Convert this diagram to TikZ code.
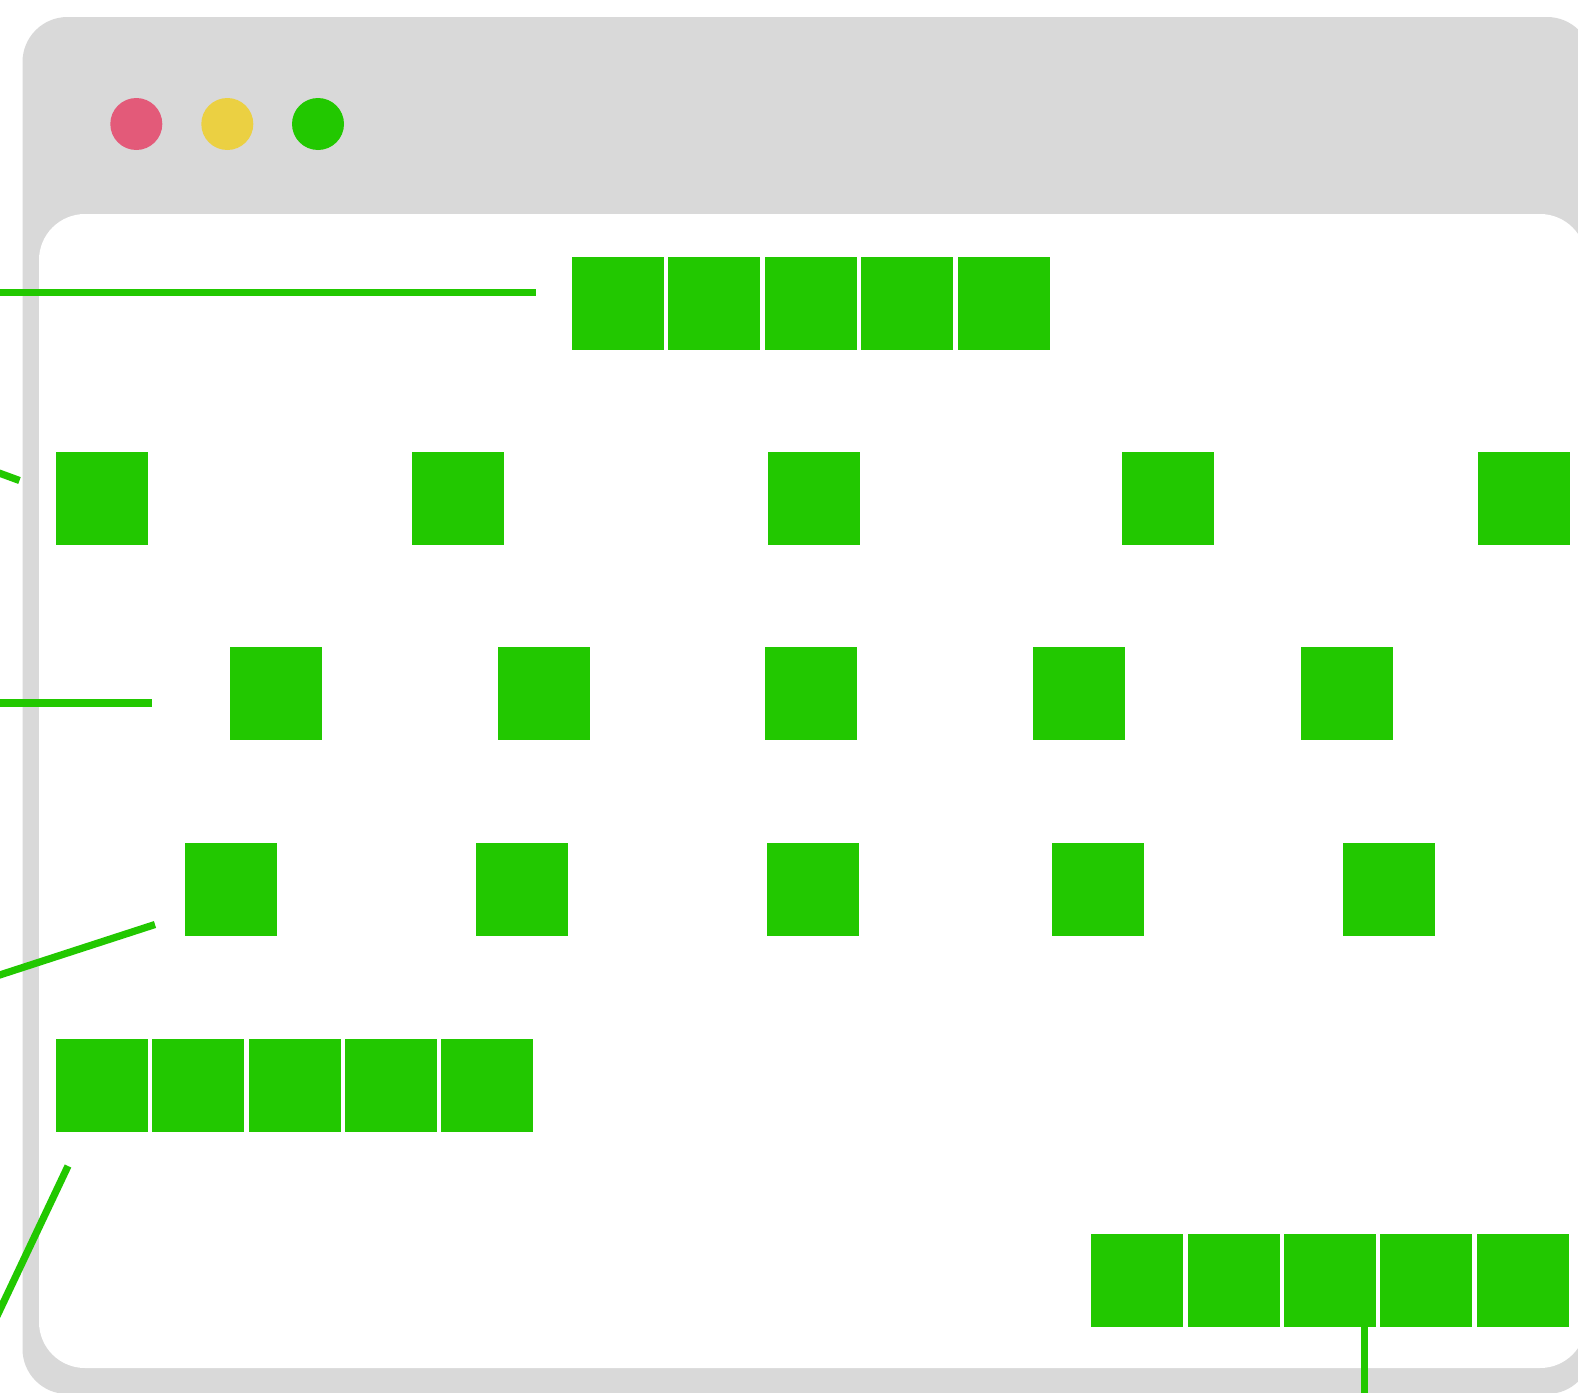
\documentclass[tikz,border=0pt]{standalone}
\definecolor{wingray}{HTML}{D9D9D9}
\definecolor{dotred}{HTML}{E35A79}
\definecolor{dotyellow}{HTML}{EBD042}
\definecolor{boxgreen}{HTML}{22C800}
\tikzset{
  sq/.style={fill=boxgreen, draw=none, inner sep=0pt, minimum width=46pt, minimum height=46.5pt},
  dot/.style={circle, draw=none, inner sep=0pt, minimum size=26pt},
  link/.style={draw=boxgreen, line width=3.6pt}
}
\begin{document}
\begin{tikzpicture}[x=0.5pt,y=-0.5pt]
\useasboundingbox (0,0) rectangle (1578,1392);
\fill[white] (0,0) rectangle (1578,1392);
% window frame
\fill[wingray, rounded corners=22.5pt] (22.5,17) rectangle (1592,1394);
\fill[white, rounded corners=23pt] (39,214) rectangle (1586,1368);
% traffic lights
\node[dot, fill=dotred] (red) at (136.3,124) {};
\node[dot, fill=dotyellow] (yellow) at (227.3,124) {};
\node[dot, fill=boxgreen] (green) at (318,124) {};
% row 1
\foreach \n/\x in {a/617.9,b/714.3,c/810.7,d/907.1,e/1003.5}
  \node[sq] (r1\n) at (\x,303.4) {};
% row 2
\foreach \n/\x in {a/102.2,b/457.9,c/813.7,d/1168.4,e/1523.7}
  \node[sq] (r2\n) at (\x,498.7) {};
% row 3
\foreach \n/\x in {a/275.8,b/543.5,c/811.2,d/1078.8,e/1346.5}
  \node[sq] (r3\n) at (\x,693.9) {};
% row 4
\foreach \n/\x in {a/230.5,b/522.3,c/813.2,d/1098,e/1388.8}
  \node[sq] (r4\n) at (\x,889.1) {};
% row 5
\foreach \n/\x in {a/102.2,b/197.7,c/294.9,d/391,e/487.1}
  \node[sq] (r5\n) at (\x,1085.5) {};
% row 6
\foreach \n/\x in {a/1137.4,b/1233.7,c/1330.3,d/1426.4,e/1522.7}
  \node[sq] (r6\n) at (\x,1280.2) {};
% connector lines
\coordinate (l1a) at (0,292.7);
\coordinate (l1b) at (536,292.7);
\draw[link] (l1a) -- (l1b);
\coordinate (l2a) at (-5,471.5);
\coordinate (l2b) at (19.5,480.5);
\draw[link] (l2a) -- (l2b);
\coordinate (l3a) at (0,703);
\coordinate (l3b) at (152,703);
\draw[link] (l3a) -- (l3b);
\coordinate (l4a) at (-5,976.5);
\coordinate (l4b) at (155,924.5);
\draw[link] (l4a) -- (l4b);
\coordinate (l5a) at (68,1166);
\coordinate (l5b) at (-3,1316);
\draw[link] (l5a) -- (l5b);
\coordinate (l6b) at (1364.5,1395);
\draw[link] (l6b |- r6c.south) -- (l6b);
\end{tikzpicture}
\end{document}
